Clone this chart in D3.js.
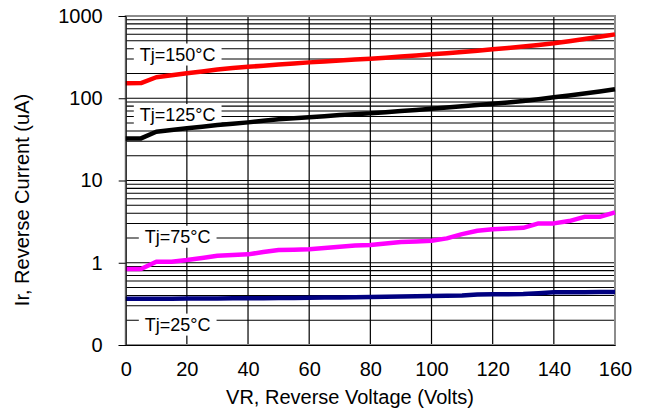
<!DOCTYPE html>
<html><head><meta charset="utf-8">
<script src="https://cdn.jsdelivr.net/npm/d3@7"></script>
<style>body{margin:0;background:#fff}svg{display:block}text{font-family:"Liberation Sans",Arial,sans-serif}</style>
</head><body><svg id="c" width="650" height="410"></svg>
<script>
const voltage = [0,5,10,15,20,25,30,35,40,45,50,55,60,65,70,75,80,85,90,95,100,105,110,115,120,125,130,135,140,145,150,155,160];
const tj150 = [152,153,180,190,201,212,224,233,241,249,257,265,273,280,287,295,302,311,321,331,342,353,365,378,393,409,425,444,465,494,525,560,598];
const tj125 = [32.5,32.5,39.2,41.1,43.1,45.1,47.2,49.0,50.9,53.1,55.4,57.0,58.6,60.5,62.5,64.0,65.5,67.7,69.9,72.2,74.5,77.0,79.7,82.6,85.7,89.0,92.5,97.3,102.6,108,114,121,129];
const tj75 = [0.838,0.838,1.03,1.03,1.078,1.14,1.216,1.24,1.265,1.35,1.427,1.44,1.455,1.51,1.565,1.62,1.64,1.71,1.786,1.81,1.85,1.98,2.23,2.45,2.55,2.60,2.66,3.01,3.01,3.21,3.62,3.62,4.10];
const tj25 = [0.365,0.365,0.366,0.366,0.367,0.367,0.368,0.369,0.370,0.371,0.372,0.373,0.375,0.377,0.379,0.381,0.383,0.385,0.388,0.391,0.394,0.397,0.401,0.412,0.413,0.414,0.416,0.425,0.437,0.438,0.439,0.440,0.440];
const seriesNames = ["Tj=150°C","Tj=125°C","Tj=75°C","Tj=25°C"];
const seriesColors = ["#ff0000","#000000","#ff00ff","#000080"];
const xTicks = [0,20,40,60,80,100,120,140,160];
const yTicks = [0.1,1,10,100,1000];
const yTickLabels = ["0","1","10","100","1000"];
// label anchors in data units (voltage, current)
const labelV = [17,17,17,17];
const labelI = [340,62.5,2.07,0.177];

const FF = "'Liberation Sans', Arial, sans-serif";
const svg = d3.select("#c");
const L=125.7, R=615, T=16, B=345;
const x = d3.scaleLinear().domain([0,160]).range([L,R]);
const y = d3.scaleLog().domain([0.1,1000]).range([B,T]);

// horizontal grid (major + minor)
const hg = [];
for (let d=0.1; d<1000; d*=10) for (let k=1;k<=9;k++) hg.push(+(d*k).toPrecision(3));
hg.push(1000);
svg.append("g").selectAll("line").data(hg).join("line")
  .attr("x1",L).attr("x2",R).attr("y1",d=>y(d)).attr("y2",d=>y(d))
  .attr("stroke","#000").attr("stroke-width",1.2);
// vertical grid
svg.append("g").selectAll("line").data(xTicks.slice(1,-1)).join("line")
  .attr("x1",d=>x(d)).attr("x2",d=>x(d)).attr("y1",T).attr("y2",B)
  .attr("stroke","#000").attr("stroke-width",1.2);

// frame
svg.append("rect").attr("x",L).attr("y",T).attr("width",R-L).attr("height",B-T)
  .attr("fill","none").attr("stroke","#8c8c8c").attr("stroke-width",2);

// labels with white boxes
const lab = svg.append("g");
seriesNames.forEach((s,i)=>{
  const cx=x(labelV[i]), cy=y(labelI[i]);
  const t = lab.append("text").attr("x",cx).attr("y",cy).attr("text-anchor","middle")
    .attr("dominant-baseline","central").attr("font-size",18).attr("font-family",FF).text(s);
  const bb = t.node().getBBox();
  lab.insert("rect","text").attr("x",bb.x-6).attr("y",bb.y-1).attr("width",bb.width+12).attr("height",bb.height+2).attr("fill","#fff");
});
lab.selectAll("text").raise();

// series lines
const allSeries=[tj150,tj125,tj75,tj25];
const line = d3.line().x((d,i)=>x(voltage[i])).y(d=>y(d));
allSeries.forEach((s,i)=>{
  svg.append("path").datum(s).attr("d",line).attr("fill","none")
    .attr("stroke",seriesColors[i]).attr("stroke-width",4.5).attr("stroke-linejoin","round");
});

// axes
const yAxis = d3.axisLeft(y).tickValues(yTicks).tickFormat((d,i)=>yTickLabels[i]).tickSize(7).tickPadding(16);
const ga = svg.append("g").attr("transform",`translate(${L},0)`).call(yAxis);
ga.select(".domain").attr("stroke","#000");
ga.selectAll("text").attr("font-size",20).attr("fill","#000").attr("font-family",FF);
const xAxis = d3.axisBottom(x).tickValues(xTicks).tickSize(0).tickPadding(17);
const gx = svg.append("g").attr("transform",`translate(0,${B})`).call(xAxis);
gx.select(".domain").attr("stroke","#000");
gx.selectAll("text").attr("font-size",20).attr("fill","#000").attr("font-family",FF);

svg.append("text").attr("x",350).attr("y",404).attr("text-anchor","middle").attr("font-size",20).attr("font-family",FF)
  .text("VR, Reverse Voltage  (Volts)");
svg.append("text").attr("transform","translate(29,200) rotate(-90)").attr("text-anchor","middle").attr("font-size",20).attr("font-family",FF)
  .text("Ir, Reverse Current (uA)");
</script></body></html>
